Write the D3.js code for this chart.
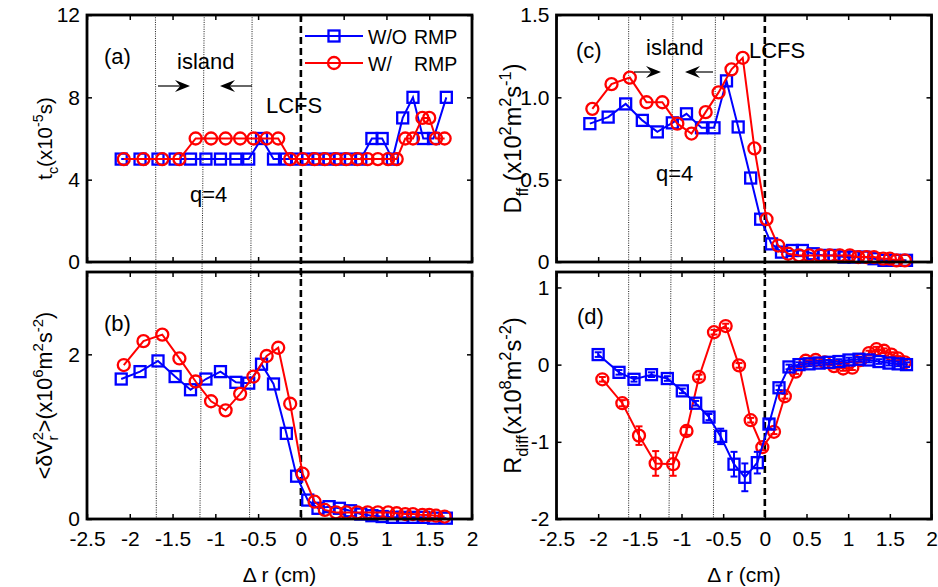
<!DOCTYPE html>
<html><head><meta charset="utf-8">
<script src="https://cdn.jsdelivr.net/npm/d3@7/dist/d3.min.js"></script>
<style>
body{margin:0;background:#fff}
text{font-family:Arial,"Liberation Sans",Helvetica,sans-serif;fill:#000}
</style>
</head><body>
<svg id="c" width="938" height="587" xmlns="http://www.w3.org/2000/svg"></svg>
<script>
// ---------------- DATA ----------------
const xDomain = [-2.5, 2];
const xTicks = [-2.5, -2, -1.5, -1, -0.5, 0, 0.5, 1, 1.5, 2];
const xTickLabels = ["-2.5", "-2", "-1.5", "-1", "-0.5", "0", "0.5", "1", "1.5", "2"];

// radial positions (cm) of the two data sets in panels (a)-(c)
const xBlue = [-2.1, -1.88, -1.67, -1.47, -1.29, -1.11, -0.94, -0.76, -0.61, -0.46, -0.32, -0.17, -0.05,
  0.08, 0.2, 0.33, 0.45, 0.58, 0.7, 0.83, 0.95, 1.07, 1.19, 1.31, 1.43, 1.55, 1.7];
const xRed = [-2.07, -1.84, -1.62, -1.42, -1.23, -1.05, -0.88, -0.71, -0.555, -0.4, -0.265, -0.125,
  0.02, 0.16, 0.28, 0.41, 0.53, 0.66, 0.78, 0.9, 1.02, 1.12, 1.22, 1.31, 1.42, 1.5, 1.58, 1.68];
// radial positions in panel (d)
const xBlueD = [-2.0, -1.75, -1.57, -1.36, -1.17, -0.99, -0.83, -0.67, -0.53, -0.37, -0.24, -0.09, 0.05,
  0.17, 0.29, 0.41, 0.53, 0.65, 0.77, 0.89, 1.01, 1.13, 1.25, 1.37, 1.49, 1.6, 1.7];
const xRedD = [-1.95, -1.71, -1.51, -1.31, -1.1, -0.94, -0.79, -0.61, -0.47, -0.31, -0.17, -0.03,
  0.11, 0.24, 0.37, 0.49, 0.61, 0.72, 0.83, 0.94, 1.05, 1.15, 1.25, 1.34, 1.43, 1.52, 1.6, 1.68];

// (a) t_c (x1e-5 s)
const tcBlue = [5,5,5,5,5,5,5,5,5,6,5,5,5, 5,5,5,5,5,5,6,6,5,7,8,6,6,8];
const tcRed  = [5,5,5,5,6,6,6,6,6,6,6,5, 5,5,5,5,5,5,5,5,5,5,6,6,7,7,6,6];
// (b) <dV_r^2> (x1e6 m^2 s^-2)
const dvBlue = [1.70, 1.79, 1.92, 1.73, 1.57, 1.70, 1.79, 1.66, 1.65, 1.88, 1.64, 1.04, 0.52,
  0.23, 0.13, 0.15, 0.13, 0.10, 0.06, 0.04, 0.03, 0.02, 0.02, 0.02, 0.02, 0.01, 0.01];
const dvRed = [1.87, 2.16, 2.24, 1.95, 1.67, 1.43, 1.32, 1.52, 1.73, 1.98, 2.08, 1.40,
  0.55, 0.21, 0.11, 0.08, 0.08, 0.08, 0.08, 0.08, 0.08, 0.07, 0.06, 0.06, 0.05, 0.05, 0.04, 0.03];
// (c) D_ff (x1e2 m^2 s^-1)
const dffBlue = [0.84, 0.88, 0.96, 0.86, 0.79, 0.845, 0.90, 0.815, 0.815, 1.10, 0.82, 0.51, 0.26,
  0.11, 0.06, 0.07, 0.07, 0.05, 0.04, 0.04, 0.03, 0.03, 0.03, 0.02, 0.01, 0.01, 0.01];
const dffRed = [0.93, 1.08, 1.12, 0.97, 0.97, 0.84, 0.78, 0.91, 1.03, 1.17, 1.24, 0.69,
  0.26, 0.10, 0.05, 0.04, 0.04, 0.04, 0.04, 0.04, 0.04, 0.03, 0.03, 0.03, 0.02, 0.02, 0.01, 0.01];
// (d) R_diff (x1e8 m^2 s^-2) with error bars
const rdBlue = [0.13, -0.10, -0.19, -0.13, -0.18, -0.34, -0.50, -0.68, -0.93, -1.29, -1.46, -1.27, -0.77,
  -0.30, -0.03, 0.0, 0.01, 0.02, 0.03, 0.04, 0.06, 0.07, 0.06, 0.04, 0.02, 0.01, 0.0];
const rdBlueErr = [0.03,0.03,0.03,0.03,0.03,0.03,0.03,0.04,0.1,0.16,0.18,0.14,0.06,
  0.03,0.03,0.03,0.03,0.03,0.03,0.03,0.03,0.03,0.03,0.03,0.03,0.03,0.03];
const rdRed = [-0.19, -0.50, -0.92, -1.28, -1.29, -0.86, -0.16, 0.42, 0.50, -0.01, -0.72, -1.07,
  -0.87, -0.41, -0.09, 0.05, 0.06, 0.03, -0.02, -0.05, -0.04, 0.06, 0.15, 0.2, 0.18, 0.13, 0.08, 0.03];
const rdRedErr = [0.03,0.04,0.12,0.16,0.15,0.05,0.03,0.03,0.03,0.03,0.03,0.04,
  0.03,0.03,0.03,0.03,0.03,0.03,0.03,0.03,0.03,0.03,0.03,0.03,0.03,0.03,0.03,0.03];

// axis ticks
const tcTicks = [0, 4, 8, 12], tcTickLabels = ["0", "4", "8", "12"];
const dvTicks = [0, 2], dvTickLabels = ["0", "2"];
const dffTicks = [0, 0.5, 1.0, 1.5], dffTickLabels = ["0", "0.5", "1.0", "1.5"];
const rdTicks = [-2, -1, 0, 1], rdTickLabels = ["-2", "-1", "0", "1"];

// island boundaries (q=4) drawn as thin dotted lines: [top, bottom] in cm
const islandLinesL = [[-1.70, -1.69], [-1.13, -1.18], [-0.57, -0.60]];
const islandLinesR = [[-1.634, -1.634], [-1.102, -1.15], [-0.593, -0.617]];
const seriesNames = ["W/O RMP", "W/    RMP"];

// ---------------- LAYOUT ----------------
const svg = d3.select("#c");
const BLUE = "#0000ff", RED = "#ff0000";
const colL = {x0: 87, x1: 472}, colR = {x0: 556.5, x1: 931.5};
const rowT = {y0: 15, y1: 262}, rowB = {y0: 272, y1: 519};
const FS = 21;

const bg = svg.append("g");     // background annotations
const fg = svg.append("g");

function makePanel(col, row, yDomain, yTicks, yLabels, showX) {
  const x = d3.scaleLinear().domain(xDomain).range([col.x0, col.x1]);
  const y = d3.scaleLinear().domain(yDomain).range([row.y1, row.y0]);
  const g = fg.append("g");
  const ax = g.append("g");
  ax.append("g").attr("transform", `translate(0,${row.y1})`)
    .call(d3.axisBottom(x).tickValues(xTicks).tickSize(-5).tickPadding(12)
      .tickFormat((d, i) => showX ? xTickLabels[i] : ""));
  ax.append("g").attr("transform", `translate(0,${row.y0})`)
    .call(d3.axisTop(x).tickValues(xTicks).tickSize(-5).tickFormat(() => ""));
  ax.append("g").attr("transform", `translate(${col.x0},0)`)
    .call(d3.axisLeft(y).tickValues(yTicks).tickSize(-5).tickPadding(7)
      .tickFormat((d, i) => yLabels[i]));
  ax.append("g").attr("transform", `translate(${col.x1},0)`)
    .call(d3.axisRight(y).tickValues(yTicks).tickSize(-5).tickFormat(() => ""));
  ax.selectAll(".domain").remove();
  ax.selectAll(".tick line").attr("stroke", "#000").attr("stroke-width", 1.5);
  ax.selectAll(".tick text").attr("font-size", FS).attr("font-family", "Arial, 'Liberation Sans', sans-serif").attr("fill", "#000");
  const data = g.append("g");
  g.append("rect").attr("x", col.x0).attr("y", row.y0)
    .attr("width", col.x1 - col.x0).attr("height", row.y1 - row.y0)
    .attr("fill", "none").attr("stroke", "#000").attr("stroke-width", 2.8);
  return {x, y, g, data, col, row};
}

function drawSeries(p, xs, ys, color, marker, errs) {
  const pts = xs.map((d, i) => [d, ys[i], errs ? errs[i] : 0]);
  const s = p.data.append("g");
  s.append("path")
    .attr("d", d3.line().x(d => p.x(d[0])).y(d => p.y(d[1]))(pts))
    .attr("fill", "none").attr("stroke", color).attr("stroke-width", 2);
  if (errs) {
    pts.forEach(d => {
      const cx = p.x(d[0]), ya = p.y(d[1] - d[2]), yb = p.y(d[1] + d[2]);
      s.append("line").attr("x1", cx).attr("x2", cx).attr("y1", ya).attr("y2", yb)
        .attr("stroke", color).attr("stroke-width", 2);
      [ya, yb].forEach(yy => s.append("line").attr("x1", cx - 3.5).attr("x2", cx + 3.5)
        .attr("y1", yy).attr("y2", yy).attr("stroke", color).attr("stroke-width", 2));
    });
  }
  pts.forEach(d => drawMarker(s, p.x(d[0]), p.y(d[1]), color, marker));
}

function drawMarker(s, cx, cy, color, marker) {
  if (marker === "square") {
    s.append("rect").attr("x", cx - 5.5).attr("y", cy - 5.5).attr("width", 11).attr("height", 11)
      .attr("fill", "none").attr("stroke", color).attr("stroke-width", 2.3);
  } else {
    s.append("circle").attr("cx", cx).attr("cy", cy).attr("r", 6)
      .attr("fill", "none").attr("stroke", color).attr("stroke-width", 2.3);
  }
}

const pa = makePanel(colL, rowT, [0, 12], tcTicks, tcTickLabels, false);
const pb = makePanel(colL, rowB, [0, 3], dvTicks, dvTickLabels, true);
const pc = makePanel(colR, rowT, [0, 1.5], dffTicks, dffTickLabels, false);
const pd = makePanel(colR, rowB, [-2, 1.2], rdTicks, rdTickLabels, true);

// reference lines (island boundaries + LCFS)
function refLines(pTop, pBot, lines) {
  lines.forEach(l => {
    bg.append("line").attr("x1", pTop.x(l[0])).attr("x2", pTop.x(l[1]))
      .attr("y1", pTop.row.y0).attr("y2", pBot.row.y1)
      .attr("stroke", "#000").attr("stroke-width", 0.9).attr("stroke-dasharray", "1,1.3");
  });
  bg.append("line").attr("x1", pTop.x(0)).attr("x2", pTop.x(0))
    .attr("y1", pTop.row.y0).attr("y2", pBot.row.y1)
    .attr("stroke", "#000").attr("stroke-width", 2.6).attr("stroke-dasharray", "7,4");
}
refLines(pa, pb, islandLinesL);
refLines(pc, pd, islandLinesR);

drawSeries(pa, xBlue, tcBlue, BLUE, "square");
drawSeries(pa, xRed, tcRed, RED, "circle");
drawSeries(pb, xBlue, dvBlue, BLUE, "square");
drawSeries(pb, xRed, dvRed, RED, "circle");
drawSeries(pc, xBlue, dffBlue, BLUE, "square");
drawSeries(pc, xRed, dffRed, RED, "circle");
drawSeries(pd, xRedD, rdRed, RED, "circle", rdRedErr);
drawSeries(pd, xBlueD, rdBlue, BLUE, "square", rdBlueErr);

// ---------------- TEXT ----------------
function txt(xp, yp, s, fs, anchor) {
  return svg.append("text").attr("x", xp).attr("y", yp).attr("font-size", fs || FS)
    .attr("text-anchor", anchor || "start").text(s);
}
function arrow(x1, x2, yy) {
  const d = Math.sign(x2 - x1), L = 15, Wd = 6;
  svg.append("line").attr("x1", x1).attr("x2", x2 - d * 6).attr("y1", yy).attr("y2", yy)
    .attr("stroke", "#000").attr("stroke-width", 1.2);
  svg.append("path").attr("d",
    `M${x2},${yy} L${x2 - d * L},${yy - Wd} L${x2 - d * L * 0.65},${yy} L${x2 - d * L},${yy + Wd} Z`)
    .attr("fill", "#000");
}

txt(104, 64, "(a)", 22);
txt(104, 331, "(b)", 22);
txt(576, 58, "(c)", 22);
txt(577, 324, "(d)", 22);
txt(177, 69, "island", 22);
txt(266, 113, "LCFS", 22);
txt(190, 202, "q=4", 22);
arrow(158, 190, 86); arrow(252, 220, 86);
txt(646, 55, "island", 22);
txt(749, 58, "LCFS", 22);
txt(656, 181, "q=4", 22);
arrow(634, 661, 72); arrow(713, 685, 72);

// legend
[[BLUE, "square", 36, seriesNames[0]], [RED, "circle", 63, seriesNames[1]]].forEach(r => {
  svg.append("line").attr("x1", 305).attr("x2", 363).attr("y1", r[2]).attr("y2", r[2])
    .attr("stroke", r[0]).attr("stroke-width", 2);
  drawMarker(svg, 334, r[2], r[0], r[1]);
  const parts = r[3].split(/\s+/);
  txt(368, r[2] + 8, parts[0], 19.5);
  txt(414, r[2] + 8, parts[1], 19.5);
});

// x labels
[colL, colR].forEach(c => txt((c.x0 + c.x1) / 2, 582, "\u0394 r (cm)", 21, "middle"));

// y labels (rich text)
function ylabel(cx, cy, fs, parts) {
  const t = svg.append("text").attr("transform", `translate(${cx},${cy}) rotate(-90)`)
    .attr("text-anchor", "middle").attr("font-size", fs);
  const sub = fs * 0.3, sup = -fs * 0.42, small = fs * 0.7;
  let cur = 0;
  parts.forEach(p => {
    const target = p.t === "sub" ? sub : p.t === "sup" ? sup : 0;
    const ts = t.append("tspan").attr("dy", target - cur).text(p.s);
    if (p.dx) ts.attr("dx", p.dx * fs);
    if (p.t) ts.attr("font-size", small);
    cur = target;
  });
}
ylabel(52, (rowT.y0 + rowT.y1) / 2, 20.5, [{s: "t"}, {s: "c", t: "sub"}, {s: "(x10"}, {s: "-5", t: "sup"}, {s: "s)"}]);
ylabel(52, (rowB.y0 + rowB.y1) / 2, 21.5, [{s: "<\u03B4V"}, {s: "2", t: "sup"}, {s: "r", t: "sub", dx: -0.39},
  {s: ">(x10", dx: 0.15}, {s: "6", t: "sup"}, {s: "m"}, {s: "2", t: "sup"}, {s: "s"}, {s: "-2", t: "sup"}, {s: ")"}]);
ylabel(521, (rowT.y0 + rowT.y1) / 2, 23.5, [{s: "D"}, {s: "ff", t: "sub"}, {s: " (x10"}, {s: "2", t: "sup"}, {s: "m"},
  {s: "2", t: "sup"}, {s: "s"}, {s: "-1", t: "sup"}, {s: ")"}]);
ylabel(521, (rowB.y0 + rowB.y1) / 2, 23.5, [{s: "R"}, {s: "diff", t: "sub"}, {s: "(x10"}, {s: "8", t: "sup"}, {s: "m"},
  {s: "2", t: "sup"}, {s: "s"}, {s: "-2", t: "sup"}, {s: ")"}]);
</script>
</body></html>
